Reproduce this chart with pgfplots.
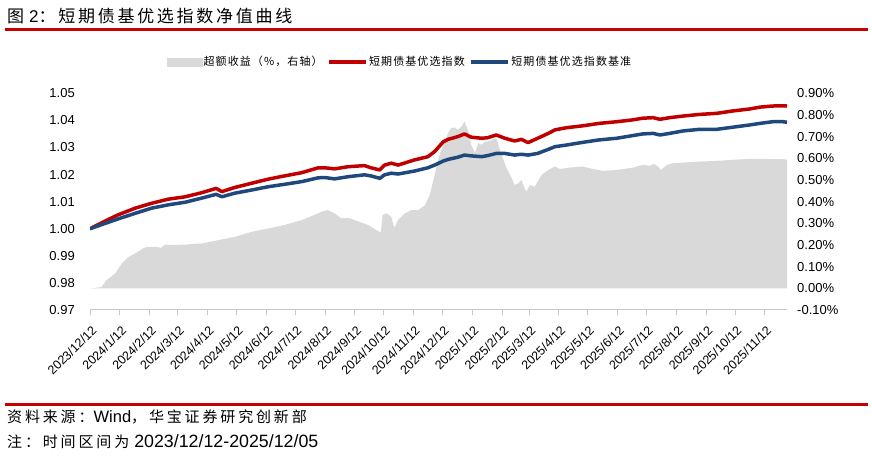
\documentclass[border=0pt]{standalone}
\usepackage{fontspec}
\setmainfont{Liberation Sans}
\newfontfamily\cjkA[LetterSpace=16]{Noto Sans CJK SC}
\newfontfamily\cjkB[LetterSpace=19]{Noto Sans CJK SC}
\newfontfamily\cjkC[LetterSpace=10]{Noto Sans CJK SC}
\usepackage{pgfplots}
\pgfplotsset{compat=1.18}
\definecolor{idxred}{RGB}{192,0,0}
\definecolor{idxblue}{RGB}{31,73,125}
\definecolor{areagray}{RGB}{217,217,217}
\definecolor{rulered}{RGB}{200,0,0}
\definecolor{axisgray}{RGB}{200,200,200}

\pgfplotstableread{
d v
0 1.0000
16 1.0029
29 1.0051
47 1.0076
64 1.0094
81 1.0109
99 1.0118
116 1.0133
131 1.0149
137 1.0137
150 1.0152
168 1.0168
185 1.0183
202 1.0195
220 1.0207
237 1.0225
244 1.0225
254 1.0221
268 1.0229
285 1.0233
292 1.0225
301 1.0217
306 1.0235
313 1.0242
320 1.0235
337 1.0254
351 1.0266
358 1.0285
367 1.0321
372 1.0330
382 1.0340
389 1.0350
396 1.0338
407 1.0334
413 1.0336
422 1.0346
431 1.0334
441 1.0324
448 1.0330
455 1.0318
465 1.0334
476 1.0352
483 1.0365
495 1.0373
512 1.0380
529 1.0389
547 1.0395
564 1.0402
574 1.0408
585 1.0410
592 1.0404
602 1.0410
616 1.0416
633 1.0422
651 1.0426
668 1.0435
685 1.0442
696 1.0449
709 1.0453
720 1.0454
724 1.0453
}\redtab

\pgfplotstableread{
d v
0 1.0000
16 1.0020
29 1.0036
47 1.0057
64 1.0076
81 1.0088
99 1.0098
116 1.0113
131 1.0127
137 1.0118
150 1.0131
168 1.0143
185 1.0155
202 1.0164
220 1.0174
237 1.0188
244 1.0189
254 1.0184
268 1.0192
285 1.0199
292 1.0195
301 1.0186
306 1.0199
313 1.0205
320 1.0202
337 1.0213
351 1.0225
358 1.0235
367 1.0250
372 1.0256
382 1.0264
389 1.0272
396 1.0269
407 1.0266
413 1.0270
422 1.0278
431 1.0278
441 1.0272
448 1.0275
455 1.0272
465 1.0278
476 1.0293
483 1.0303
495 1.0309
512 1.0319
529 1.0328
547 1.0334
564 1.0344
574 1.0350
585 1.0352
592 1.0346
602 1.0352
616 1.0361
633 1.0367
651 1.0367
668 1.0375
685 1.0383
696 1.0389
709 1.0395
720 1.0395
724 1.0393
}\bluetab

\pgfplotstableread{
d v
0 0
2 0
12 0.006
17 0.037
26 0.068
33 0.114
40 0.145
47 0.161
55 0.184
59 0.191
69 0.191
74 0.187
78 0.202
87 0.200
99 0.202
116 0.207
133 0.222
151 0.238
168 0.261
185 0.276
202 0.292
220 0.315
237 0.346
240 0.353
247 0.361
254 0.346
261 0.323
268 0.325
278 0.310
289 0.292
297 0.269
302 0.258
304 0.338
308 0.346
313 0.330
316 0.279
320 0.315
327 0.346
334 0.361
341 0.361
348 0.384
353 0.431
358 0.523
363 0.616
367 0.662
372 0.716
375 0.739
379 0.742
382 0.731
386 0.747
389 0.770
393 0.724
396 0.662
400 0.624
403 0.670
407 0.662
410 0.677
413 0.677
422 0.693
427 0.624
432 0.562
438 0.508
441 0.477
445 0.485
448 0.500
453 0.446
457 0.477
462 0.469
469 0.523
476 0.546
483 0.562
488 0.551
498 0.557
512 0.562
522 0.551
533 0.542
547 0.546
564 0.557
574 0.569
581 0.566
586 0.574
590 0.562
593 0.546
599 0.569
605 0.577
616 0.580
633 0.585
651 0.588
668 0.593
685 0.597
702 0.597
720 0.596
724 0.593
}\graytab

\begin{document}
\begin{tikzpicture}
\useasboundingbox (0,0) rectangle (872pt,455pt);
\fill[white] (0,0) rectangle (872pt,455pt);
% title
\node[anchor=west, inner sep=0pt] at (7pt,438.5pt) {\fontsize{17}{20}\selectfont\cjkA 图\hspace{5pt}\normalfont 2\cjkA ：短期债基优选指数净值曲线};
\fill[rulered] (5pt,423.5pt) rectangle (868pt,426.5pt);
% footer
\fill[rulered] (5pt,49.5pt) rectangle (868pt,52pt);
\node[anchor=west, inner sep=0pt] at (7pt,38.3pt) {\fontsize{15}{18}\selectfont\cjkB 资料来源：\normalfont\fontsize{16.5}{18}\selectfont Wind\fontsize{15}{18}\selectfont\cjkB ，华宝证券研究创新部};
\node[anchor=west, inner sep=0pt] at (7pt,13.3pt) {\fontsize{15}{18}\selectfont\cjkB 注：时间区间为\hspace{5pt}\normalfont\fontsize{17.8}{18}\selectfont 2023/12/12-2025/12/05};

% right axis: excess return area
\begin{axis}[
  at={(90pt,145pt)}, anchor=south west,
  scale only axis, width=697pt, height=216.7pt,
  xmin=0, xmax=724, ymin=-0.1, ymax=0.9,
  axis x line=none,
  axis y line*=right,
  y axis line style={draw=none},
  ytick={-0.1,0,0.1,0.2,0.3,0.4,0.5,0.6,0.7,0.8,0.9},
  ytick style={draw=none},
  yticklabel={\pgfmathprintnumber[fixed,fixed zerofill,precision=2]{\tick}\%},
  yticklabel style={font=\fontsize{13}{15}\selectfont, anchor=west, inner sep=0pt, xshift=10pt},
  /pgf/number format/assume math mode=true,
]
\addplot[fill=areagray, draw=none] table[x=d,y=v] {\graytab} \closedcycle;
\end{axis}

% left axis: index lines
\begin{axis}[
  at={(90pt,145pt)}, anchor=south west,
  scale only axis, width=697pt, height=216.7pt,
  xmin=0, xmax=724, ymin=0.97, ymax=1.05,
  axis x line*=bottom, axis y line*=left,
  x axis line style={draw=axisgray, line width=1pt, -},
  y axis line style={draw=none},
  ytick={0.97,0.98,0.99,1.00,1.01,1.02,1.03,1.04,1.05},
  ytick style={draw=none},
  yticklabel={\pgfmathprintnumber[fixed,fixed zerofill,precision=2]{\tick}},
  yticklabel style={font=\fontsize{13}{15}\selectfont, anchor=east, inner sep=0pt, xshift=-10pt},
  /pgf/number format/assume math mode=true,
  xtick={0,31,62,91,122,152,183,213,244,275,305,336,366,397,428,456,487,517,548,578,609,640,670,701},
  xticklabels={2023/12/12,2024/1/12,2024/2/12,2024/3/12,2024/4/12,2024/5/12,2024/6/12,2024/7/12,2024/8/12,2024/9/12,2024/10/12,2024/11/12,2024/12/12,2025/1/12,2025/2/12,2025/3/12,2025/4/12,2025/5/12,2025/6/12,2025/7/12,2025/8/12,2025/9/12,2025/10/12,2025/11/12},
  xtick style={draw=axisgray, line width=0.8pt},
  tick align=outside, major tick length=5pt,
  xticklabel style={font=\fontsize{12.5}{15}\selectfont, rotate=45, anchor=north east, inner sep=0pt, xshift=-6.4pt, yshift=-7.5pt},
  legend style={at={(0.110,1.1444)}, anchor=west, draw=none, fill=none, inner sep=0pt, outer sep=0pt,
    font=\fontsize{11}{13}\selectfont\cjkC, legend columns=3,
    nodes={inner sep=1.5pt},
    /tikz/every even column/.append style={column sep=3pt}},
]
\addlegendimage{legend image code/.code={\fill[areagray] (0pt,-3.7pt) rectangle (35pt,3.7pt);}}
\addlegendentry{超额收益（\%，右轴）}
\addplot[idxred, line width=3.5pt, line join=round,
  legend image code/.code={\draw[idxred, line width=3.5pt] (0pt,0pt) -- (37pt,0pt);}] table[x=d,y=v] {\redtab};
\addlegendentry{短期债基优选指数}
\addplot[idxblue, line width=3.5pt, line join=round,
  legend image code/.code={\draw[idxblue, line width=3.5pt] (0pt,0pt) -- (37pt,0pt);}] table[x=d,y=v] {\bluetab};
\addlegendentry{短期债基优选指数基准}
\end{axis}
\end{tikzpicture}
\end{document}
